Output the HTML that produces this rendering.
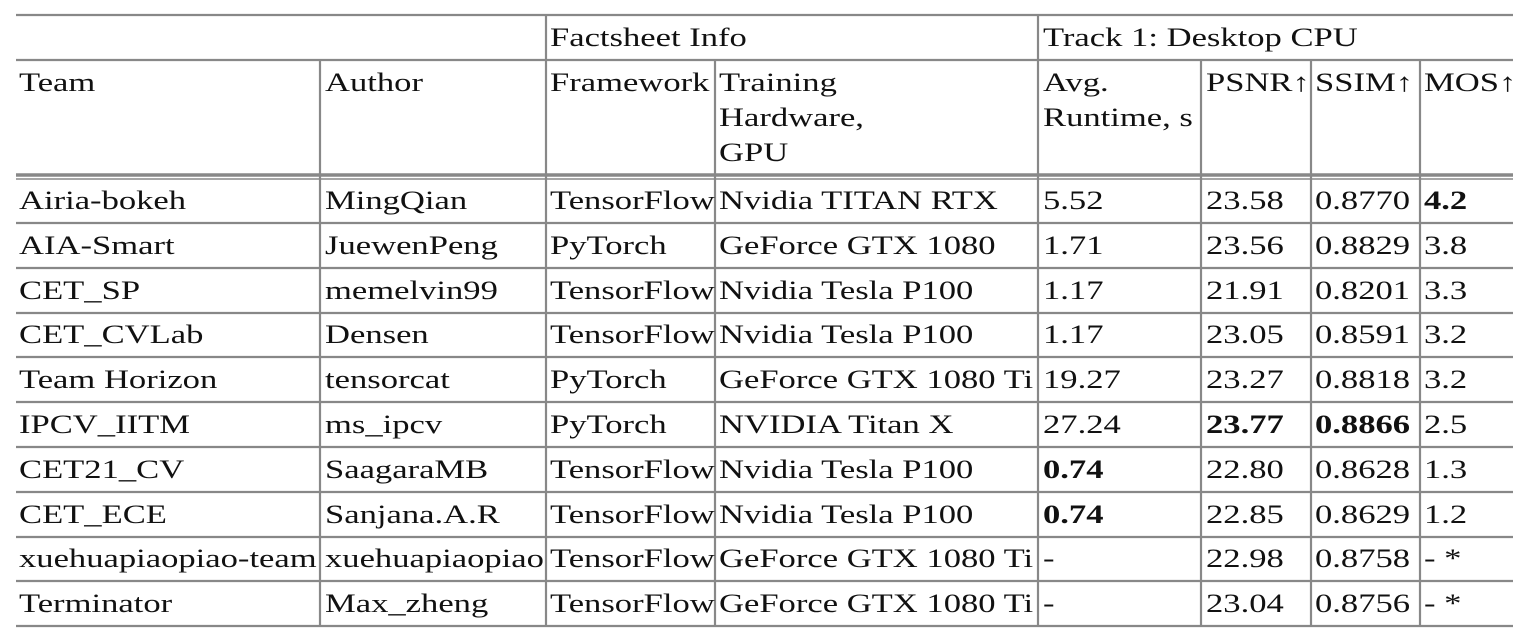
<!DOCTYPE html>
<html><head><meta charset="utf-8"><style>
body{margin:0;width:1532px;height:639px;background:#fff;position:relative;overflow:hidden;font-family:"Liberation Serif",serif;font-size:26px;color:#111}
.t{position:absolute;white-space:nowrap;line-height:35px;transform:scaleX(1.33);transform-origin:0 0}
b{font-weight:bold}
svg{position:absolute;left:0;top:0}
</style></head><body>
<svg width="1532" height="639">
<g stroke="#888" stroke-width="2.2">
<line x1="16" y1="15" x2="1513" y2="15"/>
<line x1="16" y1="60" x2="1513" y2="60"/>
<line x1="16" y1="175" x2="1513" y2="175" stroke-width="3.5"/>
<line x1="16" y1="179" x2="1513" y2="179" stroke-width="1.5"/>
<line x1="16" y1="223" x2="1513" y2="223"/>
<line x1="16" y1="268" x2="1513" y2="268"/>
<line x1="16" y1="313" x2="1513" y2="313"/>
<line x1="16" y1="357" x2="1513" y2="357"/>
<line x1="16" y1="402" x2="1513" y2="402"/>
<line x1="16" y1="447" x2="1513" y2="447"/>
<line x1="16" y1="492" x2="1513" y2="492"/>
<line x1="16" y1="537" x2="1513" y2="537"/>
<line x1="16" y1="581" x2="1513" y2="581"/>
<line x1="16" y1="626" x2="1513" y2="626"/>
<line x1="546" y1="15" x2="546" y2="626"/>
<line x1="1038" y1="15" x2="1038" y2="626"/>
<line x1="320" y1="60" x2="320" y2="626"/>
<line x1="715" y1="60" x2="715" y2="626"/>
<line x1="1201" y1="60" x2="1201" y2="626"/>
<line x1="1311" y1="60" x2="1311" y2="626"/>
<line x1="1420" y1="60" x2="1420" y2="626"/>
</g></svg>
<div class="t" style="left:550px;top:20px">Factsheet Info</div>
<div class="t" style="left:1043px;top:20px">Track 1: Desktop CPU</div>
<div class="t" style="left:19px;top:65px">Team</div>
<div class="t" style="left:325px;top:65px">Author</div>
<div class="t" style="left:550px;top:65px">Framework</div>
<div class="t" style="left:719px;top:65px">Training<br>Hardware,<br>GPU</div>
<div class="t" style="left:1043px;top:65px">Avg.<br>Runtime, s</div>
<div class="t" style="left:1206px;top:65px">PSNR↑</div>
<div class="t" style="left:1315px;top:65px">SSIM↑</div>
<div class="t" style="left:1424px;top:65px">MOS↑</div>

<div class="t" style="left:19px;top:179px;line-height:44.8px">Airia-bokeh<br>AIA-Smart<br>CET_SP<br>CET_CVLab<br>Team Horizon<br>IPCV_IITM<br>CET21_CV<br>CET_ECE<br>xuehuapiaopiao-team<br>Terminator</div>
<div class="t" style="left:325px;top:179px;line-height:44.8px">MingQian<br>JuewenPeng<br>memelvin99<br>Densen<br>tensorcat<br>ms_ipcv<br>SaagaraMB<br>Sanjana.A.R<br>xuehuapiaopiao<br>Max_zheng</div>
<div class="t" style="left:550px;top:179px;line-height:44.8px">TensorFlow<br>PyTorch<br>TensorFlow<br>TensorFlow<br>PyTorch<br>PyTorch<br>TensorFlow<br>TensorFlow<br>TensorFlow<br>TensorFlow</div>
<div class="t" style="left:719px;top:179px;line-height:44.8px">Nvidia TITAN RTX<br>GeForce GTX 1080<br>Nvidia Tesla P100<br>Nvidia Tesla P100<br>GeForce GTX 1080 Ti<br>NVIDIA Titan X<br>Nvidia Tesla P100<br>Nvidia Tesla P100<br>GeForce GTX 1080 Ti<br>GeForce GTX 1080 Ti</div>
<div class="t" style="left:1043px;top:179px;line-height:44.8px">5.52<br>1.71<br>1.17<br>1.17<br>19.27<br>27.24<br><b>0.74</b><br><b>0.74</b><br>-<br>-</div>
<div class="t" style="left:1206px;top:179px;line-height:44.8px">23.58<br>23.56<br>21.91<br>23.05<br>23.27<br><b>23.77</b><br>22.80<br>22.85<br>22.98<br>23.04</div>
<div class="t" style="left:1315px;top:179px;line-height:44.8px">0.8770<br>0.8829<br>0.8201<br>0.8591<br>0.8818<br><b>0.8866</b><br>0.8628<br>0.8629<br>0.8758<br>0.8756</div>
<div class="t" style="left:1424px;top:179px;line-height:44.8px"><b>4.2</b><br>3.8<br>3.3<br>3.2<br>3.2<br>2.5<br>1.3<br>1.2<br>- *<br>- *</div>
</body></html>
